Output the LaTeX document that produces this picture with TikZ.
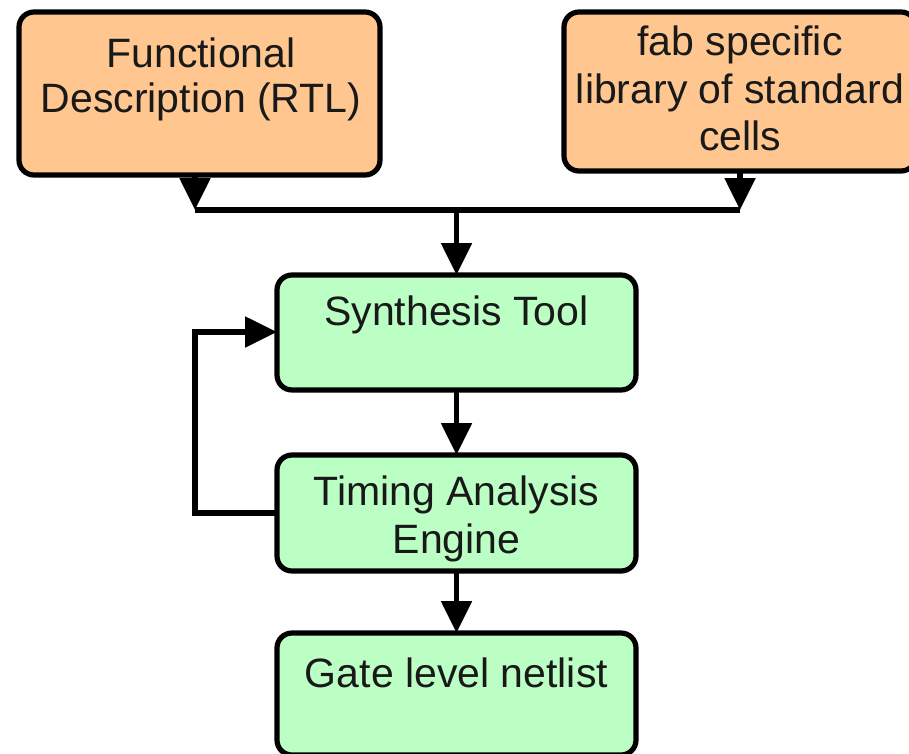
\documentclass[tikz,border=0pt]{standalone}
\usepackage{fontspec}
\setmainfont{Liberation Sans}
\usetikzlibrary{arrows.meta}
\definecolor{inputfill}{HTML}{FFC78F}
\definecolor{toolfill}{HTML}{BBFFC4}
\tikzset{
  box/.style={draw=black, line width=5.2pt, rounded corners=15pt, inner sep=0pt, outer sep=0pt},
  inbox/.style={box, fill=inputfill},
  toolbox/.style={box, fill=toolfill},
  txt/.style={anchor=base, inner sep=0pt, text=black!90, font=\fontsize{41}{46}\selectfont},
  flow/.style={draw=black, line width=5.2pt, line join=miter, -{Triangle[length=32pt,width=30pt]}},
  wire/.style={draw=black, line width=5.2pt, line join=miter}
}
\begin{document}
\begin{tikzpicture}[x=1pt, y=-1pt]
  \useasboundingbox (0,0) rectangle (909,753);
  \clip (0,0) rectangle (909,753);

  % input boxes
  \node[inbox, minimum width=361pt, minimum height=163pt] (rtl) at (199.5,93.5) {};
  \node[txt] (rtl1) at (201,67) {Functional};
  \node[txt] (rtl2) at (201,112) {Description (RTL)};

  \node[inbox, minimum width=352pt, minimum height=159pt] (lib) at (740,91.5) {};
  \node[txt] (lib1) at (740,55) {fab specific};
  \node[txt] (lib2) at (740,103) {library of standard};
  \node[txt] (lib3) at (740,150) {cells};

  % tool chain boxes
  \node[toolbox, minimum width=359pt, minimum height=115pt] (syn) at (456.5,332.5) {};
  \node[txt] (syn1) at (456.5,325) {Synthesis Tool};

  \node[toolbox, minimum width=359pt, minimum height=116pt] (sta) at (456.5,513) {};
  \node[txt] (sta1) at (456.5,505) {Timing Analysis};
  \node[txt] (sta2) at (456.5,553) {Engine};

  \node[toolbox, minimum width=359pt, minimum height=122pt] (net) at (456.5,694) {};
  \node[txt] (net1) at (456.5,687) {Gate level netlist};

  % merge of the two inputs
  \coordinate (ja) at (195,210);
  \coordinate (jb) at (740,210);
  \coordinate (jm) at (456.5,210);
  \draw[flow] (ja |- rtl.south) -- (ja);
  \draw[flow] (jb |- lib.south) -- (jb);
  \draw[wire] (ja) -- (jb);
  \draw[flow] (jm) -- (syn.north);

  % main flow
  \draw[flow] (syn.south) -- (sta.north);
  \draw[flow] (sta.south) -- (net.north);

  % timing feedback loop
  \coordinate (fb1) at (195,513);
  \coordinate (fb2) at (195,332);
  \draw[flow] (sta.west |- fb1) -- (fb1) -- (fb2) -- (syn.west |- fb2);
\end{tikzpicture}
\end{document}
